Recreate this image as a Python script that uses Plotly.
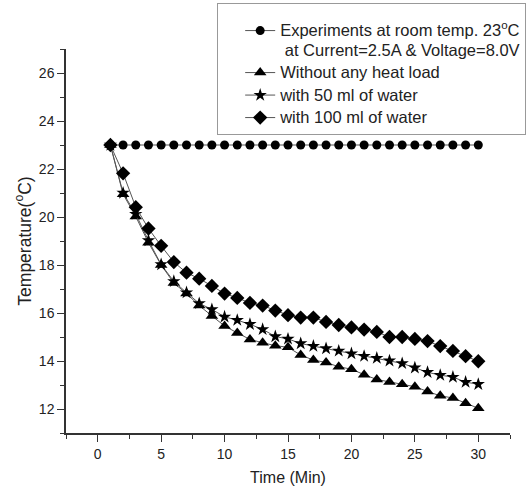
import plotly.graph_objects as go

time_min = list(range(1, 31))
room_temp = [23] * 30
no_load = [23, 20.95, 20.02, 18.93, 18.0, 17.25, 16.81, 16.31, 15.88, 15.46,
           15.17, 14.9, 14.76, 14.64, 14.57, 14.25, 14.04, 13.94, 13.76, 13.66,
           13.43, 13.23, 13.13, 13.03, 12.93, 12.73, 12.55, 12.46, 12.24, 12.03]
water_50 = [23, 21.0, 20.12, 19.02, 18.02, 17.32, 16.85, 16.4, 16.15, 15.84,
            15.7, 15.53, 15.32, 15.02, 14.92, 14.73, 14.62, 14.52, 14.42, 14.31,
            14.2, 14.12, 14.01, 13.9, 13.72, 13.53, 13.41, 13.33, 13.12, 13.03]
water_100 = [23, 21.82, 20.41, 19.52, 18.8, 18.12, 17.68, 17.43, 17.13, 16.81,
             16.63, 16.42, 16.31, 16.1, 15.91, 15.81, 15.81, 15.63, 15.5, 15.4,
             15.31, 15.21, 15.0, 15.0, 14.92, 14.83, 14.62, 14.42, 14.2, 13.99]

legend_names = [
    "Experiments at room temp. 23<sup>o</sup>C<br> at Current=2.5A & Voltage=8.0V",
    "Without any heat load",
    "with 50 ml of water",
    "with 100 ml of water",
]
series = [
    (legend_names[0], room_temp, "circle", 9),
    (legend_names[1], no_load, "triangle-up", 11),
    (legend_names[2], water_50, "star", 10),
    (legend_names[3], water_100, "diamond", 11),
]

def big(s):
    return "<br>".join('<span style="font-size:16.5px">%s</span>' % p for p in s.split("<br>"))

fig = go.Figure()
for name, vals, sym, size in series:
    fig.add_trace(go.Scatter(
        x=time_min, y=vals, name=big(name), mode="lines+markers",
        line=dict(color="#555555", width=1),
        marker=dict(symbol=sym, size=size, color="black"),
    ))

font = "Liberation Sans, Arial, sans-serif"
fig.update_layout(
    width=528, height=490,
    margin=dict(l=66, r=18, t=49, b=57, autoexpand=False),
    plot_bgcolor="white", paper_bgcolor="white",
    font=dict(family=font, size=14, color="#222222"),
    showlegend=True,
    legend=dict(
        x=0.3405, y=1.12, xanchor="left", yanchor="top",
        bordercolor="#999999", borderwidth=1, bgcolor="white",
        font=dict(size=15, family=font, color="#222222"),
        valign="top", tracegroupgap=0, indentation=22,
        title=dict(text="<span> </span>", font=dict(size=8)),
    ),
    xaxis=dict(
        range=[-2.5, 32.5], tickmode="linear", tick0=0, dtick=5,
        showgrid=False, zeroline=False, showline=True, linecolor="#333333", linewidth=1.5,
        ticks="outside", ticklen=7, tickwidth=1.2, tickcolor="#333333",
        minor=dict(dtick=2.5, tick0=0, ticklen=4, ticks="outside", tickcolor="#333333", tickwidth=1.2),
        title=dict(text="Time (Min)", font=dict(size=16), standoff=11),
        tickfont=dict(size=14),
    ),
    yaxis=dict(
        range=[11, 27], tickmode="linear", tick0=0, dtick=2,
        showgrid=False, zeroline=False, showline=True, linecolor="#333333", linewidth=1.5,
        ticks="outside", ticklen=7, tickwidth=1.2, tickcolor="#333333",
        minor=dict(dtick=1, tick0=0, ticklen=4, ticks="outside", tickcolor="#333333", tickwidth=1.2),
        title=dict(text="Temperature(<sup>o</sup>C)", font=dict(size=17.5), standoff=3),
        tickfont=dict(size=14),
    ),
)

fig.write_html("out.html", config={"displayModeBar": False},
               post_script="document.body.style.margin='0';")
